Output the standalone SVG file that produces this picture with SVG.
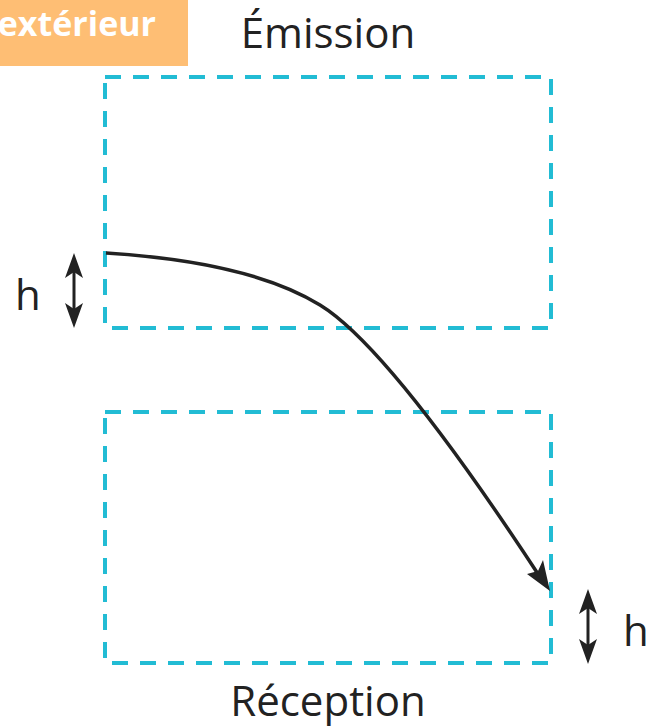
<svg xmlns="http://www.w3.org/2000/svg" width="648" height="727" viewBox="0 0 648 727">
<defs>
<style>
.box{fill:none;stroke:#22BCD4;stroke-width:4;stroke-dasharray:16 12}
.lbl{font-family:"Open Sans","Noto Sans",sans-serif;fill:#222;font-size:42px}
.dbl{stroke:#222;stroke-width:3;fill:none}
.head{fill:#222}
</style>
</defs>
<g id="tag">
<rect x="0" y="0" width="188" height="66" fill="#FEBE74"/>
<text x="156" y="36" text-anchor="end" font-family="'Open Sans',sans-serif" font-weight="bold" font-size="34" fill="#fff">extérieur</text>
</g>
<g id="emission">
<rect class="box" x="105" y="77" width="446" height="251"/>
<text class="lbl" x="328" y="48" text-anchor="middle">Émission</text>
</g>
<g id="reception">
<rect class="box" x="105" y="412" width="446" height="251"/>
<text class="lbl" x="328" y="716" text-anchor="middle">Réception</text>
</g>
<g id="h-left">
<line class="dbl" x1="74" y1="262" x2="74" y2="319"/>
<path class="head" d="M74,253 L83,278 L74,272 L65,278 Z"/>
<path class="head" d="M74,328 L83,303 L74,309 L65,303 Z"/>
<text class="lbl" x="28" y="310" text-anchor="middle">h</text>
</g>
<g id="h-right">
<line class="dbl" x1="588" y1="598" x2="588" y2="655"/>
<path class="head" d="M588,589 L597,614 L588,608 L579,614 Z"/>
<path class="head" d="M588,664 L597,639 L588,645 L579,639 Z"/>
<text class="lbl" x="636" y="646" text-anchor="middle">h</text>
</g>
<g id="connectors">
<path d="M106,253 Q250,262 320,305 T540,577" fill="none" stroke="#222" stroke-width="3.5"/>
<path d="M550,591 L527,574 L538,571 L543,560 Z" fill="#222"/>
</g>
</svg>
